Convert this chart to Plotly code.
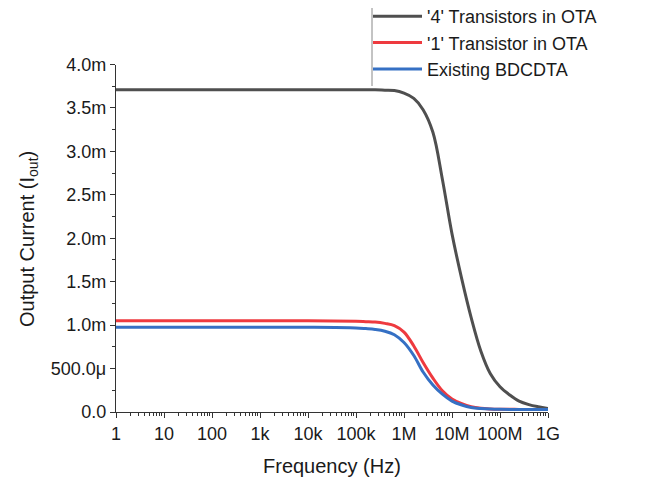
import plotly.graph_objects as go

freq = [1, 10, 100, 1e3, 1e4, 1e5, 1.6e5, 2.5e5, 4e5, 6.3e5,
        1e6, 1.6e6, 2.5e6, 4e6, 6.3e6, 1e7, 1.6e7, 2.5e7, 4e7, 6.3e7,
        1e8, 1.6e8, 2.5e8, 4e8, 6.3e8, 1e9]

# values in mA
i_4t = [3.71, 3.71, 3.71, 3.71, 3.71, 3.71, 3.71, 3.71, 3.705, 3.70,
        3.67, 3.61, 3.48, 3.22, 2.68, 2.05, 1.53, 1.09, 0.70, 0.44,
        0.29, 0.195, 0.125, 0.085, 0.06, 0.04]
i_1t = [1.05, 1.05, 1.05, 1.05, 1.05, 1.045, 1.04, 1.035, 1.02, 0.995,
        0.92, 0.76, 0.57, 0.39, 0.245, 0.15, 0.095, 0.06, 0.042, 0.035,
        0.032, 0.031, 0.03, 0.03, 0.03, 0.03]
i_ex = [0.975, 0.975, 0.975, 0.975, 0.975, 0.968, 0.96, 0.95, 0.93, 0.89,
        0.80, 0.65, 0.46, 0.31, 0.205, 0.125, 0.08, 0.052, 0.04, 0.034,
        0.031, 0.03, 0.03, 0.03, 0.03, 0.03]

names = ["'4' Transistors in OTA", "'1' Transistor in OTA", "Existing BDCDTA"]
colors = ["#4F4F4F", "#EE3A3F", "#3570C4"]

x_tickvals = [1, 10, 100, 1e3, 1e4, 1e5, 1e6, 1e7, 1e8, 1e9]
x_ticktext = ["1", "10", "100", "1k", "10k", "100k", "1M", "10M", "100M", "1G"]
y_tickvals = [0, 0.5e-3, 1.0e-3, 1.5e-3, 2.0e-3, 2.5e-3, 3.0e-3, 3.5e-3, 4.0e-3]
y_ticktext = ["0.0", "500.0\u03bc", "1.0m", "1.5m", "2.0m", "2.5m", "3.0m", "3.5m", "4.0m"]

x_minor = [m * 10 ** k for k in range(9) for m in range(2, 10)]
y_minor = [0.25e-3 + 0.5e-3 * k for k in range(8)]

fig = go.Figure()
for vals, nm, col in zip([i_4t, i_1t, i_ex], names, colors):
    fig.add_trace(go.Scatter(
        x=freq, y=[v * 1e-3 for v in vals], mode="lines", name=nm,
        line=dict(color=col, width=3, shape="spline", smoothing=1.0),
    ))

font = "Liberation Sans, Arial, sans-serif"
W, H = 637, 471          # page body has an 8px margin
L, R, B = 108, 540, 404  # plot area edges in figure px
TOP = 56.5
H_AREA = float(B)        # margin t = 0; paper y spans 0..B
ytop = (B - TOP) / H_AREA

def py(px):
    return (B - px) / H_AREA

def px_x(px):
    return (px - L) / (R - L)

fig.update_layout(
    width=W, height=H,
    margin=dict(l=L, r=W - R, t=0, b=H - B, autoexpand=False),
    paper_bgcolor="white", plot_bgcolor="white",
    font=dict(family=font, size=18, color="#1a1a1a"),
    showlegend=True,
    legend=dict(x=px_x(360), y=py(-10), xanchor="left", yanchor="top",
                bgcolor="rgba(0,0,0,0)", font=dict(size=18),
                tracegroupgap=0, itemwidth=49),
    xaxis=dict(
        type="log", range=[0, 9], showgrid=False, zeroline=False,
        showline=True, linecolor="#333", linewidth=1.3,
        ticks="outside", ticklen=5, tickcolor="#333", tickwidth=1.3,
        tickvals=x_tickvals, ticktext=x_ticktext, automargin=False,
        minor=dict(ticks="outside", ticklen=3, tickcolor="#333", tickvals=x_minor, showgrid=False),
        tickfont=dict(size=18),
    ),
    yaxis=dict(
        range=[0, 4.0e-3], domain=[0, ytop], showgrid=False, zeroline=False,
        showline=True, linecolor="#333", linewidth=1.3,
        ticks="outside", ticklen=5, tickcolor="#333", tickwidth=1.3,
        tickvals=y_tickvals, ticktext=y_ticktext, automargin=False,
        minor=dict(ticks="outside", ticklen=3, tickcolor="#333", tickvals=y_minor, showgrid=False),
        tickfont=dict(size=18),
    ),
    annotations=[
        dict(text="Frequency (Hz)", xref="paper", yref="paper",
             x=px_x(324), y=py(458), xanchor="center", yanchor="middle",
             showarrow=False, font=dict(size=20)),
        dict(text="Output Current (I<sub>out</sub>)", xref="paper", yref="paper",
             x=px_x(20), y=py(231), xanchor="center", yanchor="middle",
             textangle=-90, showarrow=False, font=dict(size=20)),
    ],
)
fig.add_shape(type="line", xref="paper", yref="paper",
              x0=px_x(364), x1=px_x(364), y0=py(-2), y1=py(78),
              line=dict(color="#888", width=1))

fig.write_html("out.html")
